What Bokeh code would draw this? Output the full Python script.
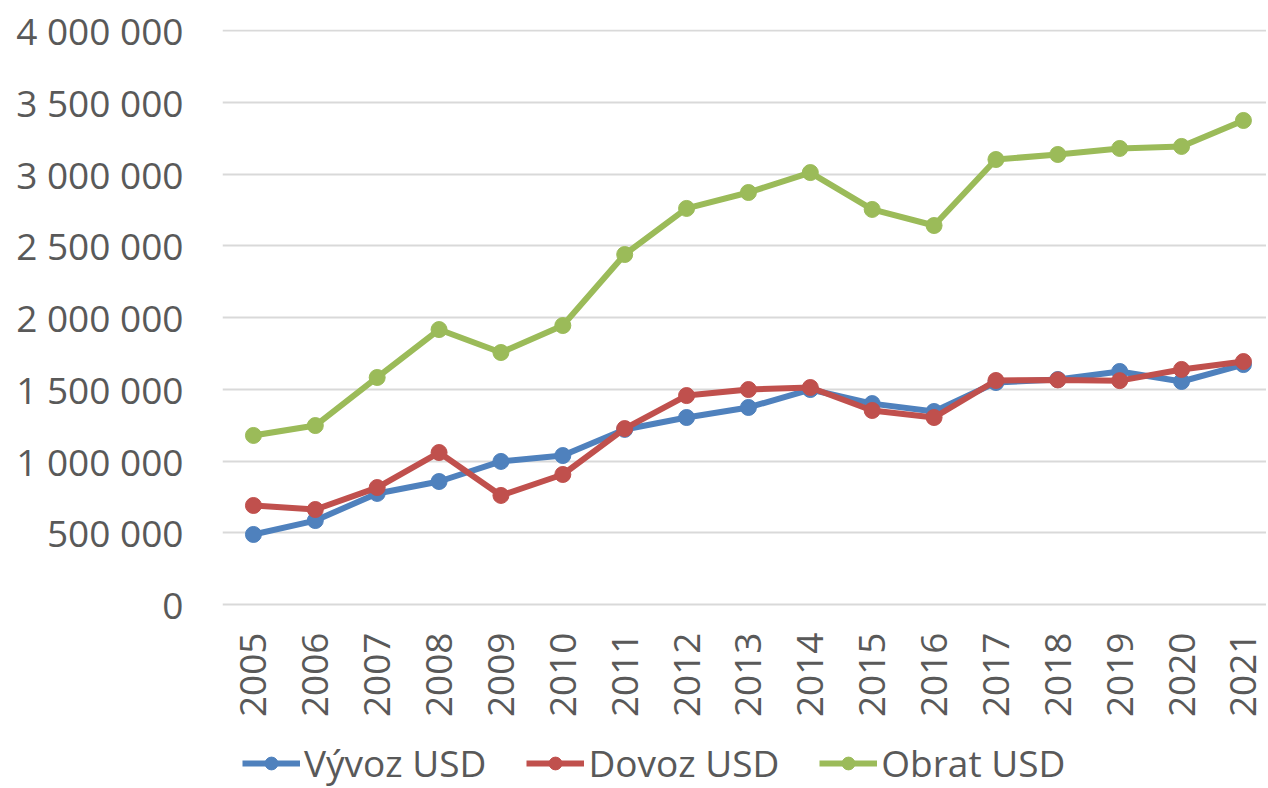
from bokeh.plotting import figure
from bokeh.models import Range1d, FixedTicker, Legend, LegendItem
from bokeh.core.properties import value
from bokeh.embed import file_html
from bokeh.resources import INLINE
import math

years = list(range(2005, 2022))
year_labels = [str(y) for y in years]
vyvoz = [488000, 585000, 774000, 857000, 997000, 1038000, 1220000, 1303000, 1373000,
         1498000, 1400000, 1345000, 1547000, 1568000, 1624000, 1554000, 1672000]
dovoz = [690000, 662000, 815000, 1059000, 760000, 906000, 1226000, 1456000, 1498000,
         1512000, 1352000, 1303000, 1561000, 1565000, 1560000, 1638000, 1693000]
obrat = [1178000, 1247000, 1582000, 1916000, 1756000, 1944000, 2439000, 2760000, 2871000,
         3010000, 2753000, 2641000, 3101000, 3136000, 3178000, 3192000, 3373000]
series_names = ["Vývoz USD", "Dovoz USD", "Obrat USD"]
colors = ["#4F81BD", "#C0504D", "#9BBB59"]
y_ticks = [0, 500000, 1000000, 1500000, 2000000, 2500000, 3000000, 3500000, 4000000]
y_tick_labels = ["0", "500 000", "1 000 000", "1 500 000", "2 000 000", "2 500 000",
                 "3 000 000", "3 500 000", "4 000 000"]

FONT = "Open Sans"
TXT = "#595959"

# layout (pixels)
FW, TOP, LEFT = 1044, 29, 222
PLOT_H = 575            # height used by 0 .. y_top
BELOW = 184             # space below the 0 line (year labels + legend)
Y_TOP = 4007000
UNITS_PER_PX = Y_TOP / PLOT_H
LABEL_GAP = 28          # px between 0 line and year labels

p = figure(frame_width=FW, frame_height=PLOT_H + BELOW, output_backend="svg",
           toolbar_location=None, x_axis_location=None,
           x_range=Range1d(2004.5, 2004.5 + FW / 61.875),
           y_range=Range1d(-BELOW * UNITS_PER_PX, Y_TOP),
           min_border_left=LEFT, min_border_top=TOP, min_border_right=0, min_border_bottom=0)
p.outline_line_color = None
p.xgrid.grid_line_color = None
p.ygrid.grid_line_color = "#D9D9D9"
p.ygrid.grid_line_width = 2

p.yaxis.ticker = FixedTicker(ticks=y_ticks)
p.yaxis.major_label_overrides = {t: l for t, l in zip(y_ticks, y_tick_labels)}
p.yaxis.axis_line_color = None
p.yaxis.major_tick_line_color = None
p.yaxis.minor_tick_line_color = None
p.yaxis.major_tick_out = 0
p.yaxis.major_tick_in = 0
p.yaxis.major_label_text_font = FONT
p.yaxis.major_label_text_font_size = "37px"
p.yaxis.major_label_text_color = TXT
p.yaxis.major_label_standoff = 39

# category (year) labels, rotated, below the zero line
p.text(x=years, y=[-LABEL_GAP * UNITS_PER_PX] * len(years), text=year_labels,
       angle=math.pi / 2, text_align="right", text_baseline="middle",
       text_font=value(FONT), text_font_size="37px", text_color=TXT)

items = []
for name, vals, c in zip(series_names, [vyvoz, dovoz, obrat], colors):
    r1 = p.line(years, vals, line_color=c, line_width=6)
    r2 = p.scatter(years, vals, size=16, fill_color=c, line_color=c)
    items.append(LegendItem(label=name, renderers=[r1, r2]))

legend = Legend(items=items, orientation="horizontal", location=(20, 0),
                label_text_font=FONT, label_text_font_size="37px", label_text_color=TXT,
                glyph_width=58, glyph_height=32, spacing=40, label_standoff=4,
                border_line_color=None, background_fill_alpha=0, margin=0, padding=0)
p.add_layout(legend, "center")

open("out.html", "w").write(file_html(p, INLINE))
